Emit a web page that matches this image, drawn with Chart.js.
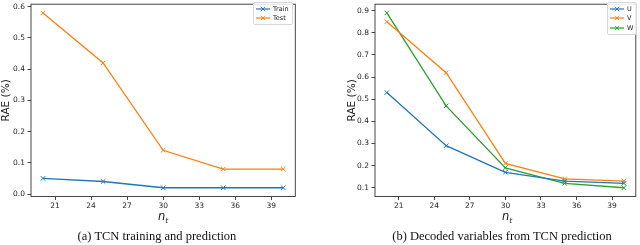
<!DOCTYPE html>
<html>
<head>
<meta charset="utf-8">
<script src="https://cdn.jsdelivr.net/npm/chart.js@4.4.1/dist/chart.umd.min.js"></script>
<style>
  html, body { margin: 0; padding: 0; background: #fff; }
  #wrap { position: relative; width: 640px; height: 245px; overflow: hidden; }
  canvas { position: absolute; top: 0; }
  .xt { position: absolute; font-family: "DejaVu Sans", sans-serif; font-style: italic; font-size: 11.5px; color: #222; transform: translateX(-50%); top: 211px; line-height: 1; }
  .xt sub { font-size: 7.5px; vertical-align: -3px; }
  .cap { position: absolute; font-family: "Liberation Serif", "Times New Roman", serif; font-size: 12.5px; color: #111; transform: translateX(-50%); top: 230px; white-space: nowrap; line-height: 1; }
  .leg { position: absolute; border: 1px solid #d8d8d8; border-radius: 2px; background: rgba(255,255,255,0.85); font-family: "DejaVu Sans", sans-serif; font-size: 6.5px; color: #222; padding: 1px 3px 1px 2px; }
  .leg .row { display: flex; align-items: center; height: 9.5px; }
  .leg svg { margin-right: 3px; }
</style>
</head>
<body>
<div id="wrap">
  <canvas id="c1" width="310" height="245" style="left:0px"></canvas>
  <canvas id="c2" width="294" height="245" style="left:346px"></canvas>
  <div class="xt" style="left:163px"><span>n</span><sub>t</sub></div>
  <div class="xt" style="left:507px"><span>n</span><sub>t</sub></div>
  <div class="cap" style="left:157px">(a) TCN training and prediction</div>
  <div class="cap" style="left:502px">(b) Decoded variables from TCN prediction</div>
  <div class="leg" id="leg1" style="left:253px; top:2px;"></div>
  <div class="leg" id="leg2" style="left:607px; top:2px;"></div>
</div>
<script>
// ---- data ----
const xValues = [20, 25, 30, 35, 40];
const trainValues = [0.05, 0.04, 0.02, 0.02, 0.02];
const testValues = [0.58, 0.42, 0.14, 0.08, 0.08];
const uValues = [0.53, 0.29, 0.17, 0.13, 0.12];
const vValues = [0.85, 0.62, 0.21, 0.14, 0.13];
const wValues = [0.89, 0.47, 0.19, 0.12, 0.10];
const xTicks = [21, 24, 27, 30, 33, 36, 39];
const leftYTicks = [0.0, 0.1, 0.2, 0.3, 0.4, 0.5, 0.6];
const rightYTicks = [0.1, 0.2, 0.3, 0.4, 0.5, 0.6, 0.7, 0.8, 0.9];
const seriesLeft = ['Train', 'Test'];
const seriesRight = ['U', 'V', 'W'];

const BLUE = '#1f77b4', ORANGE = '#ff7f0e', GREEN = '#2ca02c';
const TXT = '#262626', AX = '#333333';

function pts(vals) { return xValues.map((x, i) => ({ x: x, y: vals[i] })); }
function ds(label, vals, color) {
  return {
    label: label, data: pts(vals), borderColor: color, backgroundColor: color,
    borderWidth: 1.3, pointStyle: 'crossRot', pointRadius: 3.2, pointBorderWidth: 1,
    pointHoverRadius: 3.2, tension: 0, fill: false
  };
}

const frame = {
  id: 'frame',
  afterDraw(chart) {
    const a = chart.chartArea, ctx = chart.ctx;
    ctx.save();
    ctx.strokeStyle = AX; ctx.lineWidth = 0.9;
    ctx.strokeRect(a.left, a.top, a.right - a.left, a.bottom - a.top);
    ctx.restore();
  }
};

function makeChart(id, datasets, yMin, yMax, yTicks, yWidth, padRight) {
  return new Chart(document.getElementById(id), {
    type: 'line',
    data: { datasets: datasets },
    plugins: [frame],
    options: {
      responsive: false, animation: false, events: [],
      layout: { padding: { left: 0, right: padRight, top: 0, bottom: 0 } },
      plugins: { legend: { display: false }, tooltip: { enabled: false } },
      scales: {
        x: {
          type: 'linear', min: 19, max: 41,
          afterBuildTicks: s => { s.ticks = xTicks.map(v => ({ value: v })); },
          afterFit: s => { s.height = 48.5; s.paddingLeft = 0; s.paddingRight = 0; },
          grid: { display: true, drawOnChartArea: false, drawTicks: true, tickLength: 3.5, tickColor: AX, tickWidth: 0.9 },
          border: { display: false },
          ticks: { color: TXT, font: { family: 'DejaVu Sans', size: 7.5 }, padding: 1.5, maxRotation: 0, autoSkip: false, callback: v => String(v) }
        },
        y: {
          type: 'linear', min: yMin, max: yMax,
          afterBuildTicks: s => { s.ticks = yTicks.map(v => ({ value: v })); },
          afterFit: s => { s.width = yWidth; s.paddingTop = 0; s.paddingBottom = 0; },
          grid: { display: true, drawOnChartArea: false, drawTicks: true, tickLength: 3.5, tickColor: AX, tickWidth: 0.9 },
          border: { display: false },
          title: { display: true, text: 'RAE (%)', color: TXT, font: { family: 'DejaVu Sans', size: 10.5 }, padding: 0 },
          ticks: { color: TXT, font: { family: 'DejaVu Sans', size: 7.5 }, padding: 2.5, autoSkip: false, callback: v => Number(v).toFixed(1) }
        }
      }
    }
  });
}

makeChart('c1', [ds(seriesLeft[0], trainValues, BLUE), ds(seriesLeft[1], testValues, ORANGE)],
  -0.008, 0.608, leftYTicks, 31, 14.7);
makeChart('c2', [ds(seriesRight[0], uValues, BLUE), ds(seriesRight[1], vValues, ORANGE), ds(seriesRight[2], wValues, GREEN)],
  0.0605, 0.9295, rightYTicks, 29, 1);

function legend(id, names, colors) {
  const el = document.getElementById(id);
  names.forEach((n, i) => {
    const c = colors[i];
    const row = document.createElement('div'); row.className = 'row';
    row.innerHTML = '<svg width="14" height="6" viewBox="0 0 14 6">' +
      '<line x1="0" y1="3" x2="14" y2="3" stroke="' + c + '" stroke-width="1.2"/>' +
      '<line x1="5" y1="0.8" x2="9" y2="5.2" stroke="' + c + '" stroke-width="0.9"/>' +
      '<line x1="9" y1="0.8" x2="5" y2="5.2" stroke="' + c + '" stroke-width="0.9"/></svg>';
    const t = document.createElement('span'); t.textContent = n; row.appendChild(t);
    el.appendChild(row);
  });
}
legend('leg1', seriesLeft, [BLUE, ORANGE]);
legend('leg2', seriesRight, [BLUE, ORANGE, GREEN]);
</script>
</body>
</html>
